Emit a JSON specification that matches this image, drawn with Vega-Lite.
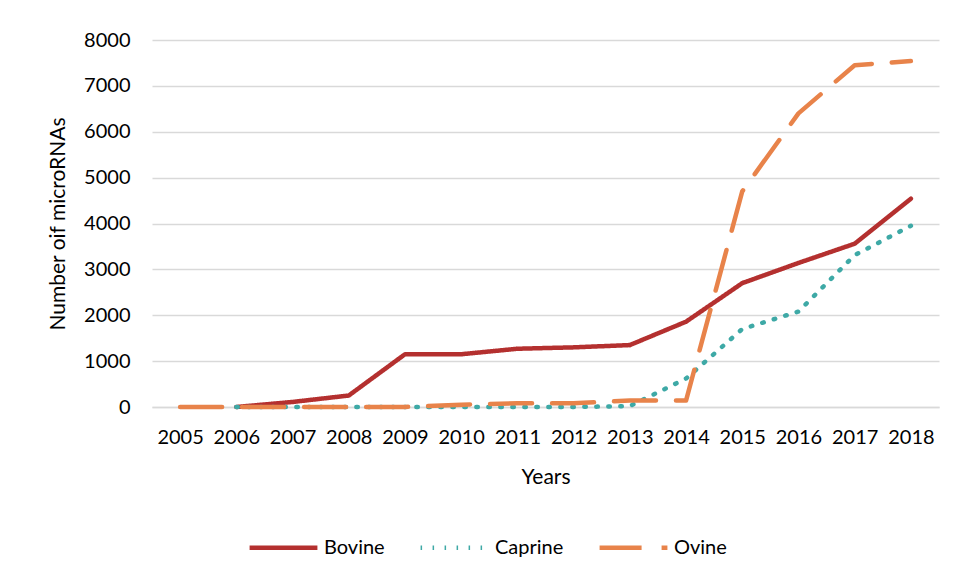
{
  "$schema": "https://vega.github.io/schema/vega-lite/v6.json",
  "autosize": "none",
  "width": 787,
  "height": 367,
  "padding": {"left": 152, "top": 40, "right": 17, "bottom": 174},
  "background": "white",
  "config": {
    "font": "Lato",
    "view": {"stroke": null},
    "axis": {"labelFont": "Lato", "titleFont": "Lato", "labelColor": "#000", "titleColor": "#000", "titleFontWeight": "normal"}
  },
  "data": {
    "values": [
      {"year": "2006", "species": "Bovine", "count": 0},
      {"year": "2007", "species": "Bovine", "count": 110},
      {"year": "2008", "species": "Bovine", "count": 250},
      {"year": "2009", "species": "Bovine", "count": 1150},
      {"year": "2010", "species": "Bovine", "count": 1150},
      {"year": "2011", "species": "Bovine", "count": 1270},
      {"year": "2012", "species": "Bovine", "count": 1300},
      {"year": "2013", "species": "Bovine", "count": 1350},
      {"year": "2014", "species": "Bovine", "count": 1860},
      {"year": "2015", "species": "Bovine", "count": 2700},
      {"year": "2016", "species": "Bovine", "count": 3140},
      {"year": "2017", "species": "Bovine", "count": 3560},
      {"year": "2018", "species": "Bovine", "count": 4540},
      {"year": "2006", "species": "Caprine", "count": 0},
      {"year": "2007", "species": "Caprine", "count": 0},
      {"year": "2008", "species": "Caprine", "count": 0},
      {"year": "2009", "species": "Caprine", "count": 0},
      {"year": "2010", "species": "Caprine", "count": 0},
      {"year": "2011", "species": "Caprine", "count": 0},
      {"year": "2012", "species": "Caprine", "count": 0},
      {"year": "2013", "species": "Caprine", "count": 20},
      {"year": "2014", "species": "Caprine", "count": 620},
      {"year": "2015", "species": "Caprine", "count": 1700},
      {"year": "2016", "species": "Caprine", "count": 2080},
      {"year": "2017", "species": "Caprine", "count": 3310},
      {"year": "2018", "species": "Caprine", "count": 3950},
      {"year": "2005", "species": "Ovine", "count": 0},
      {"year": "2006", "species": "Ovine", "count": 0},
      {"year": "2007", "species": "Ovine", "count": 0},
      {"year": "2008", "species": "Ovine", "count": 0},
      {"year": "2009", "species": "Ovine", "count": 0},
      {"year": "2010", "species": "Ovine", "count": 50},
      {"year": "2011", "species": "Ovine", "count": 80},
      {"year": "2012", "species": "Ovine", "count": 80},
      {"year": "2013", "species": "Ovine", "count": 140},
      {"year": "2014", "species": "Ovine", "count": 140},
      {"year": "2015", "species": "Ovine", "count": 4700},
      {"year": "2016", "species": "Ovine", "count": 6400},
      {"year": "2017", "species": "Ovine", "count": 7450},
      {"year": "2018", "species": "Ovine", "count": 7540}
    ]
  },
  "mark": {"type": "line", "strokeWidth": 4.5, "strokeCap": "round", "strokeJoin": "round"},
  "encoding": {
    "x": {
      "field": "year", "type": "ordinal",
      "scale": {"type": "point", "padding": 0.5, "domain": ["2005","2006","2007","2008","2009","2010","2011","2012","2013","2014","2015","2016","2017","2018"]},
      "axis": {"title": "Years", "labelAngle": 0, "labelFontSize": 20, "titleFontSize": 21, "titlePadding": 19, "ticks": false, "domainColor": "#d9d9d9", "domainWidth": 1.5, "labelPadding": 20}
    },
    "y": {
      "field": "count", "type": "quantitative",
      "scale": {"domain": [0, 8000]},
      "axis": {"title": "Number oif microRNAs", "values": [0,1000,2000,3000,4000,5000,6000,7000,8000], "format": "d", "labelFontSize": 20, "titleFontSize": 21, "titlePadding": 15, "domain": false, "ticks": false, "gridColor": "#d9d9d9", "gridWidth": 1.5, "labelPadding": 22}
    },
    "color": {
      "field": "species", "type": "nominal",
      "scale": {"domain": ["Bovine", "Caprine", "Ovine"], "range": ["#B4302F", "#3EA9A6", "#E8834A"]},
      "legend": {"title": null, "orient": "none", "direction": "horizontal", "legendX": 95, "legendY": 471, "labelFontSize": 20, "labelFont": "Lato", "symbolType": "stroke", "symbolSize": 4600, "symbolStrokeWidth": 4.5, "columnPadding": 26, "labelColor": "#000"}
    },
    "strokeDash": {
      "field": "species", "type": "nominal",
      "scale": {"domain": ["Bovine", "Caprine", "Ovine"], "range": [[1, 0], [1.5, 10.5], [42, 20]]},
      "legend": {"title": null, "orient": "none", "direction": "horizontal", "legendX": 95, "legendY": 471, "labelFontSize": 20, "symbolType": "stroke", "symbolSize": 4600, "symbolStrokeWidth": 4.5, "columnPadding": 26}
    }
  }
}
